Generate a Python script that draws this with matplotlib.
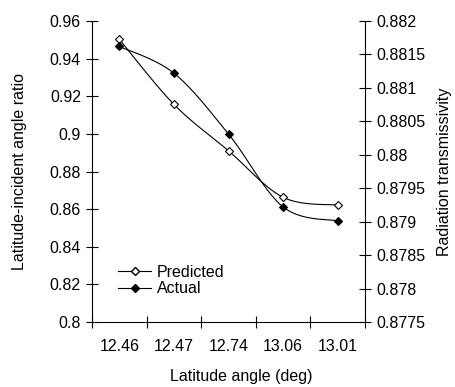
import matplotlib
matplotlib.use("Agg")
import matplotlib.pyplot as plt
import numpy as np

plt.rcParams['font.family'] = ['Liberation Sans', 'DejaVu Sans']

# data
lat_labels = ['12.46', '12.47', '12.74', '13.06', '13.01']
predicted = [0.9503, 0.9157, 0.8910, 0.8663, 0.8621]        # left axis
actual = [0.88162, 0.88122, 0.88031, 0.87922, 0.87901]        # right axis

left_lim = (0.8, 0.96)
right_lim = (0.8775, 0.882)

AX_W, AX_H = 273.0, 301.0  # axes size in px, used for Excel-like smoothing


def smooth(xs, ys, ylim, n=30):
    # Excel style smoothed line: Bezier segments, tangents from neighbours
    px = np.asarray(xs, float) / 5.0 * AX_W
    py = (np.asarray(ys, float) - ylim[0]) / (ylim[1] - ylim[0]) * AX_H
    pts = np.column_stack([px, py])
    out = []
    k = len(pts)
    for i in range(k - 1):
        p0 = pts[max(i - 1, 0)]
        p1 = pts[i]
        p2 = pts[i + 1]
        p3 = pts[min(i + 2, k - 1)]
        c1 = p1 + (p2 - p0) / 6.0
        c2 = p2 - (p3 - p1) / 6.0
        t = np.linspace(0, 1, n)[:, None]
        seg = ((1 - t) ** 3) * p1 + 3 * ((1 - t) ** 2) * t * c1 + 3 * (1 - t) * t ** 2 * c2 + t ** 3 * p2
        out.append(seg if i == 0 else seg[1:])
    curve = np.vstack(out)
    cx = curve[:, 0] / AX_W * 5.0
    cy = curve[:, 1] / AX_H * (ylim[1] - ylim[0]) + ylim[0]
    return cx, cy


fig = plt.figure(figsize=(4.55, 3.87), dpi=100)
ax = fig.add_axes([92 / 455, 1 - 322 / 387, 273 / 455, 301 / 387])
ax2 = ax.twinx()

x = np.arange(len(lat_labels)) + 0.5
fs = 11.5

sx, sy = smooth(x, predicted, left_lim)
ax.plot(sx, sy, color='black', lw=0.8)
ax.plot(x, predicted, ls='none', marker='D', ms=4.2, mfc='white', mec='black', mew=0.8)

sx2, sy2 = smooth(x, actual, right_lim)
ax2.plot(sx2, sy2, color='black', lw=0.8)
ax2.plot(x, actual, ls='none', marker='D', ms=4.2, mfc='black', mec='black', mew=0.8)

ax.set_xlim(0, 5)
ax.set_ylim(*left_lim)
ax2.set_ylim(*right_lim)

ax.set_yticks(np.arange(0.8, 0.9601, 0.02))
ax.set_yticklabels(['0.8', '0.82', '0.84', '0.86', '0.88', '0.9', '0.92', '0.94', '0.96'])
ax2.set_yticks(np.arange(0.8775, 0.88201, 0.0005))
ax2.set_yticklabels(['0.8775', '0.878', '0.8785', '0.879', '0.8795', '0.88',
                     '0.8805', '0.881', '0.8815', '0.882'])

ax.set_xticks(np.arange(0, 6))
ax.set_xticklabels([])
ax.set_xticks(x, minor=True)
ax.set_xticklabels(lat_labels, minor=True)
ax.tick_params(axis='x', which='minor', length=0, pad=12, labelsize=fs)
ax.tick_params(axis='x', which='major', direction='inout', length=8, width=0.8)
ax.tick_params(axis='y', direction='inout', length=8, width=0.8, pad=4, labelsize=fs)
ax2.tick_params(axis='y', direction='inout', length=8, width=0.8, pad=4, labelsize=fs)

for a in (ax, ax2):
    a.spines['top'].set_visible(False)
    for s in a.spines.values():
        s.set_linewidth(0.8)
ax.spines['right'].set_visible(False)
ax2.spines['left'].set_visible(False)
ax2.spines['bottom'].set_visible(False)

ax.set_xlabel('Latitude angle (deg)', fontsize=fs)
ax.xaxis.set_label_coords((241 - 92) / 273, -(369 - 322) / 301)
ax.set_ylabel('Latitude-incident angle ratio', fontsize=fs)
ax.yaxis.set_label_coords(-(92 - 27) / 273, 0.5)
ax2.set_ylabel('Radiation transmissivity', fontsize=fs)
ax2.yaxis.set_label_coords((437 - 92) / 273, 0.5)

h1 = ax.plot([], [], color='black', lw=0.8, marker='D', ms=4.2, mfc='white', mec='black')[0]
h2 = ax.plot([], [], color='black', lw=0.8, marker='D', ms=4.2, mfc='black', mec='black')[0]
ax.legend([h1, h2], ['Predicted', 'Actual'], loc='lower left', frameon=False,
          bbox_to_anchor=(0.095, 0.085), fontsize=fs, handlelength=2.1,
          handletextpad=0.35, labelspacing=0.1, borderpad=0, borderaxespad=0,
          markerscale=1.0)

fig.savefig('out.png', dpi=100)
